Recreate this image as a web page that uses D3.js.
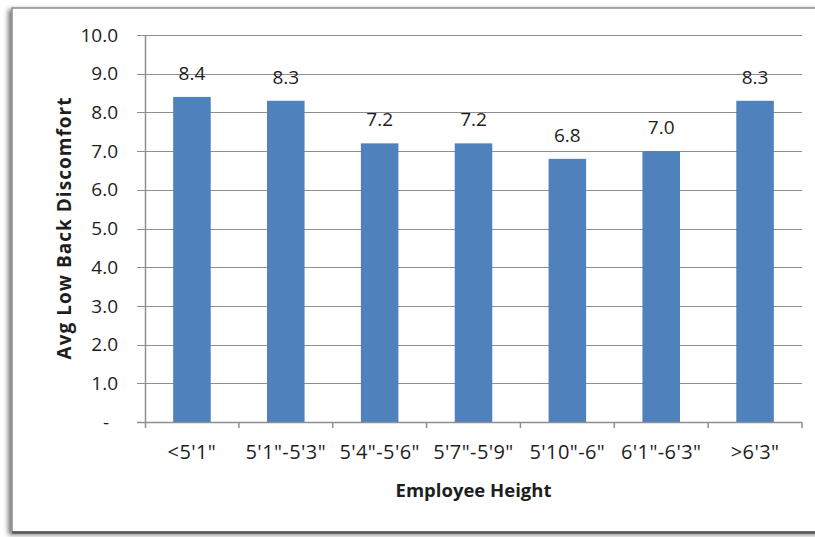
<!DOCTYPE html>
<html>
<head>
<meta charset="utf-8">
<script src="https://cdn.jsdelivr.net/npm/d3@7"></script>
<style>
  html, body { margin: 0; padding: 0; background: #ffffff; }
  svg { display: block; }
  text { font-family: "Open Sans", "Noto Sans", sans-serif; fill: #1e1e1e; }
</style>
</head>
<body>
<svg id="chart" width="815" height="537"></svg>
<script>
// Height groups and their average low back discomfort scores
const categories = ["<5'1\"", "5'1\"-5'3\"", "5'4\"-5'6\"", "5'7\"-5'9\"", "5'10\"-6\"", "6'1\"-6'3\"", ">6'3\""];
const values = [8.4, 8.3, 7.2, 7.2, 6.8, 7.0, 8.3];
const yTicks = [0, 1, 2, 3, 4, 5, 6, 7, 8, 9, 10];
const yTickLabels = ["-", "1.0", "2.0", "3.0", "4.0", "5.0", "6.0", "7.0", "8.0", "9.0", "10.0"];
const xTitle = "Employee Height";
const yTitle = "Avg Low Back Discomfort";

const svg = d3.select("#chart");
const W = 815, H = 537;
const margin = { left: 145, right: 13, top: 35, bottom: 115 };

// Outer frame with a soft shadow on the left and bottom
const defs = svg.append("defs");
const sh = defs.append("filter").attr("id", "frameShadow")
  .attr("x", "-5%").attr("y", "-5%").attr("width", "110%").attr("height", "110%");
sh.append("feGaussianBlur").attr("in", "SourceAlpha").attr("stdDeviation", 2.5).attr("result", "b");
sh.append("feOffset").attr("in", "b").attr("dx", -3).attr("dy", 2).attr("result", "o");
sh.append("feComponentTransfer").attr("in", "o").attr("result", "s")
  .append("feFuncA").attr("type", "linear").attr("slope", 0.55);
const mg = sh.append("feMerge");
mg.append("feMergeNode").attr("in", "s");
mg.append("feMergeNode").attr("in", "SourceGraphic");

svg.append("rect")
  .attr("x", 12).attr("y", 8).attr("width", 815).attr("height", 524)
  .attr("fill", "#ffffff").attr("stroke", "#8c8c8c").attr("stroke-width", 1.5)
  .attr("filter", "url(#frameShadow)");
svg.append("line")
  .attr("x1", 12).attr("x2", W).attr("y1", 532.5).attr("y2", 532.5)
  .attr("stroke", "#5a5a5a").attr("stroke-width", 2.5);

const x = d3.scaleBand()
  .domain(categories)
  .range([margin.left, W - margin.right])
  .paddingInner(0.6).paddingOuter(0.3);
const xb = d3.scaleBand()
  .domain(categories)
  .range([margin.left, W - margin.right])
  .padding(0);
const y = d3.scaleLinear().domain([0, 10]).range([H - margin.bottom, margin.top]);

const x0 = margin.left, x1 = W - margin.right;

// Horizontal gridlines with short tick stubs on the left
svg.append("g").selectAll("line").data(yTicks.filter(d => d > 0)).join("line")
  .attr("x1", x0 - 8).attr("x2", x1)
  .attr("y1", d => Math.round(y(d)) + 0.5).attr("y2", d => Math.round(y(d)) + 0.5)
  .attr("stroke", "#8e8e8e").attr("stroke-width", 1);

// Bars
svg.append("g").selectAll("rect").data(values).join("rect")
  .attr("x", (d, i) => x(categories[i]))
  .attr("width", x.bandwidth())
  .attr("y", d => y(d))
  .attr("height", d => y(0) - y(d))
  .attr("fill", "#4f81bd");

// Value labels above bars
svg.append("g").selectAll("text").data(values).join("text")
  .attr("x", (d, i) => x(categories[i]) + x.bandwidth() / 2)
  .attr("y", d => y(d) - 17)
  .attr("text-anchor", "middle")
  .attr("font-size", 19)
  .text(d => d.toFixed(1));

// Y axis line
svg.append("line")
  .attr("x1", x0 + 0.5).attr("x2", x0 + 0.5)
  .attr("y1", y(10)).attr("y2", y(0) + 6)
  .attr("stroke", "#8e8e8e").attr("stroke-width", 1.5);

// X axis line and category ticks
svg.append("line")
  .attr("x1", x0 - 8).attr("x2", x1)
  .attr("y1", Math.round(y(0)) + 0.5).attr("y2", Math.round(y(0)) + 0.5)
  .attr("stroke", "#8e8e8e").attr("stroke-width", 1.5);
svg.append("g").selectAll("line").data(categories.slice(1).concat(["__end"])).join("line")
  .attr("x1", d => d === "__end" ? x1 : xb(d))
  .attr("x2", d => d === "__end" ? x1 : xb(d))
  .attr("y1", y(0)).attr("y2", y(0) + 6)
  .attr("stroke", "#8e8e8e").attr("stroke-width", 1.5);

// Y tick labels
svg.append("g").selectAll("text").data(yTicks).join("text")
  .attr("x", (d, i) => d === 0 ? 109 : 118)
  .attr("y", d => y(d))
  .attr("dy", "0.35em")
  .attr("text-anchor", "end")
  .attr("font-size", 19)
  .text((d, i) => yTickLabels[i]);

// Category labels
svg.append("g").selectAll("text").data(categories).join("text")
  .attr("x", d => xb(d) + xb.bandwidth() / 2)
  .attr("y", 459)
  .attr("text-anchor", "middle")
  .attr("font-size", 20)
  .attr("letter-spacing", 0.4)
  .text(d => d);

// Axis titles
svg.append("text")
  .attr("x", (x0 + x1) / 2).attr("y", 497)
  .attr("text-anchor", "middle")
  .attr("font-size", 18.5).attr("font-weight", "bold")
  .attr("fill", "#111")
  .text(xTitle);
svg.append("text")
  .attr("transform", `translate(71, ${(y(0) + y(10)) / 2}) rotate(-90)`)
  .attr("text-anchor", "middle")
  .attr("font-size", 19).attr("font-weight", "bold")
  .attr("fill", "#111")
  .attr("textLength", 262).attr("lengthAdjust", "spacing")
  .text(yTitle);
</script>
</body>
</html>
